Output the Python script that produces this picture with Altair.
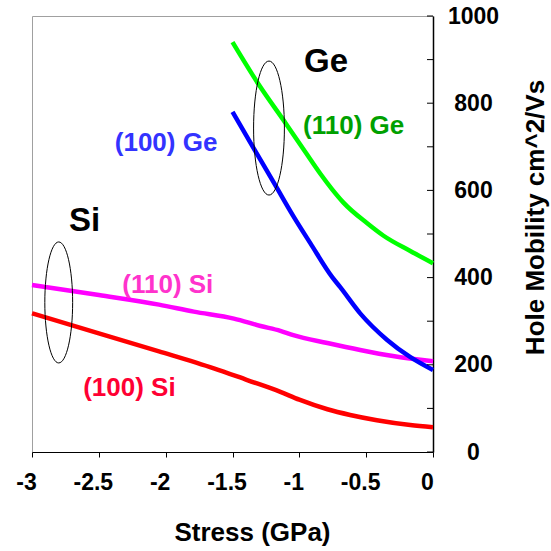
import altair as alt
import pandas as pd

# ---- data ----
si100_x = [-3.0, -2.5, -2.05, -1.64, -1.39, -1.142, -1.0, -0.79, -0.62, -0.42, -0.17, 0.0]
si100_y = [318, 272, 231, 192, 165, 138, 120, 98, 85, 73, 62, 57]

si110_x = [-3.0, -2.5, -2.05, -1.79, -1.49, -1.29, -1.142, -1.045, -0.79, -0.545, -0.3, 0.0]
si110_y = [383, 360, 338, 322, 306, 289, 278, 268, 250, 234, 220, 208]

ge100_x = [-1.5, -1.35, -1.18, -1.045, -0.918, -0.754, -0.694, -0.545, -0.343, -0.172, 0.0]
ge100_y = [780, 701, 612, 541, 479, 401, 378, 318, 257, 218, 188]

ge110_x = [-1.5, -1.3, -1.1, -0.955, -0.84, -0.756, -0.67, -0.49, -0.37, -0.17, 0.0]
ge110_y = [940, 841, 753, 688, 637, 603, 572, 524, 496, 461, 433]

series_names = ["(100) Si", "(110) Si", "(100) Ge", "(110) Ge"]
series_colors = ["#FF0000", "#FF00FF", "#0000FF", "#00FF00"]

label_text = ["(100) Ge", "(110) Ge", "(110) Si", "(100) Si"]
label_x = [-1.997, -0.594, -1.984, -2.271]
label_y = [709, 747, 382, 147]
label_colors = ["#3333FF", "#00A000", "#FF33CC", "#FF0033"]

group_text = ["Si", "Ge"]
group_x = [-2.607, -0.8]
group_y = [530, 895]

ellipse_x = [-2.8, -1.227]
ellipse_y = [343, 743]
ellipse_h = [121, 134]

x_ticks = [-3, -2.5, -2, -1.5, -1, -0.5, 0]
y_labels = [0, 200, 400, 600, 800, 1000]
y_minor = [0, 100, 200, 300, 400, 500, 600, 700, 800, 900, 1000]

# ---- tables ----
rows = []
for name, xs, ys in [("(100) Si", si100_x, si100_y), ("(110) Si", si110_x, si110_y),
                     ("(100) Ge", ge100_x, ge100_y), ("(110) Ge", ge110_x, ge110_y)]:
    for i, (x, y) in enumerate(zip(xs, ys)):
        rows.append({"series": name, "stress": x, "mobility": y, "order": i})
df = pd.DataFrame(rows)

labels_df = pd.DataFrame({"stress": label_x, "mobility": label_y, "text": label_text, "col": label_colors})
groups_df = pd.DataFrame({"stress": group_x, "mobility": group_y, "text": group_text})
ell_df = pd.DataFrame({"stress": ellipse_x, "mobility": ellipse_y, "sz": [h * h for h in ellipse_h]})
ticks_df = pd.DataFrame({"mobility": y_minor, "stress": [0] * len(y_minor)})

FONT = "Liberation Sans"
x_scale = alt.Scale(domain=[-3, 0], nice=False, zero=False)
y_scale = alt.Scale(domain=[0, 1000], nice=False, zero=False)

x_axis = alt.Axis(
    values=x_ticks, labelExpr="'' + datum.value", title="Stress (GPa)",
    grid=False, domainColor="#000000", domainWidth=1.2, tickColor="#000000",
    tickSize=5, labelPadding=14, labelFontSize=23, labelFont=FONT, labelFontWeight="bold",
    labelColor="#000000", labelOffset=-6, labelFlush=False,
    titleFontSize=26, titleFont=FONT, titleFontWeight="bold", titleColor="#000000",
    titleX=220, titleY=88, titleBaseline="alphabetic", titleAlign="center")
y_axis = alt.Axis(
    orient="right", values=y_labels, format="d", grid=False,
    domainColor="#000000", domainWidth=1.5, ticks=False, tickSize=0,
    labelPadding=40, labelAlign="center", labelBaseline="middle",
    labelFontSize=23, labelFont=FONT, labelFontWeight="bold", labelColor="#000000",
    labelFlush=False,
    title="Hole Mobility cm^2/Vs", titleFontSize=26, titleFont=FONT,
    titleFontWeight="bold", titleColor="#000000", titleAngle=270,
    titleX=110, titleY=201, titleAlign="center", titleBaseline="alphabetic")

X = alt.X("stress:Q", scale=x_scale, axis=x_axis)
Y = alt.Y("mobility:Q", scale=y_scale, axis=y_axis)

lines = alt.Chart(df).mark_line(strokeWidth=4.5, interpolate="monotone").encode(
    x=X, y=Y,
    color=alt.Color("series:N", scale=alt.Scale(domain=series_names, range=series_colors), legend=None),
    order="order:Q",
)

yticks = alt.Chart(ticks_df).mark_rule(color="#000000", strokeWidth=1, x2Offset=-6).encode(
    x=X, x2="stress:Q", y=Y,
)

ellipse_path = ("M0,-1 C0.127,-1 0.23,-0.552 0.23,0 C0.23,0.552 0.127,1 0,1 "
                "C-0.127,1 -0.23,0.552 -0.23,0 C-0.23,-0.552 -0.127,-1 0,-1 Z")
ellipses = alt.Chart(ell_df).mark_point(shape=ellipse_path, filled=False, stroke="#000000",
                                        strokeWidth=1, opacity=1).encode(
    x=X, y=Y,
    size=alt.Size("sz:Q", scale=None),
)

labels = alt.Chart(labels_df).mark_text(font=FONT, fontSize=26, fontWeight="bold",
                                        align="center", baseline="middle").encode(
    x=X, y=Y,
    text="text:N",
    color=alt.Color("col:N", scale=None),
)

groups = alt.Chart(groups_df).mark_text(font=FONT, fontSize=33, fontWeight="bold",
                                        align="center", baseline="middle", color="#000000").encode(
    x=X, y=Y,
    text="text:N",
)

chart = alt.layer(lines, yticks, ellipses, labels, groups).resolve_scale(
    color="independent"
).properties(
    width=401, height=436,
    padding={"left": 32, "top": 16, "right": 118, "bottom": 99},
    autosize=alt.AutoSizeParams(type="none"),
    background="#FFFFFF",
).configure_view(stroke="#A0A0A0", strokeWidth=1)

chart.save("out.html", embed_options={"renderer": "svg", "actions": False})
